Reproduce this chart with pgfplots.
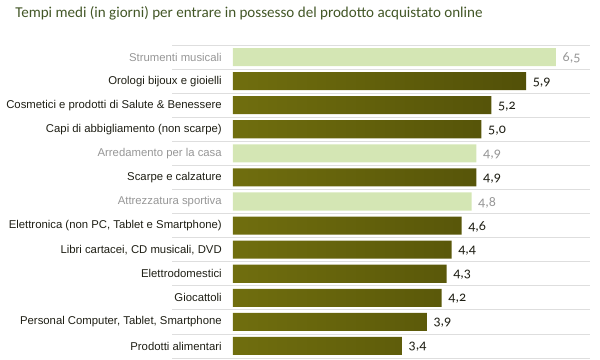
\documentclass[border=0pt]{standalone}
\usepackage{pgfplots}
\pgfplotsset{compat=1.18}
\usepackage{fontspec}
\setmainfont{Liberation Sans}
\newfontfamily\titlefont{Carlito}
\newfontfamily\valfont[Numbers=OldStyle]{Carlito}
\definecolor{lightbar}{RGB}{212,230,180}
\definecolor{olivedark}{RGB}{82,80,8}
\definecolor{olivemid}{RGB}{112,110,14}
\definecolor{titlecol}{RGB}{66,86,38}
\definecolor{gridcol}{RGB}{222,222,222}
\definecolor{lightlabel}{RGB}{150,150,150}
\definecolor{darklabel}{RGB}{30,30,20}
\begin{document}
\begin{tikzpicture}
\path[use as bounding box] (0,0) rectangle (450pt,270pt);
\foreach \i in {0,...,13} {
  \draw[gridcol, line width=0.6pt] (129pt,{236.25pt-\i*18.058pt}) -- (442.5pt,{236.25pt-\i*18.058pt});
}
\node[anchor=base west, inner sep=0pt, text=titlecol, font=\titlefont\fontsize{11.3}{13}\selectfont] at (11.25pt,256.5pt) {Tempi medi (in giorni) per entrare in possesso del prodotto acquistato online};
\begin{axis}[
  at={(174.75pt,1.5pt)}, anchor=south west,
  scale only axis, width=242.25pt, height=234.75pt,
  xbar, bar width=0.75, bar shift=0pt,
  xmin=0, xmax=6.5, ymin=-0.5, ymax=12.5, y dir=reverse,
  enlargelimits=false, clip=false,
  axis line style={draw=none}, major tick length=0pt,
  xtick=\empty, ytick={0,...,12},
  yticklabels={{\color{lightlabel}Strumenti musicali},{Orologi bijoux e gioielli},{Cosmetici e prodotti di Salute \& Benessere},{Capi di abbigliamento (non scarpe)},{\color{lightlabel}Arredamento per la casa},{Scarpe e calzature},{\color{lightlabel}Attrezzatura sportiva},{Elettronica (non PC, Tablet e Smartphone)},{Libri cartacei, CD musicali, DVD},{Elettrodomestici},{Giocattoli},{Personal Computer, Tablet, Smartphone},{Prodotti alimentari}},
  yticklabel style={anchor=east, inner sep=0pt, xshift=-8.25pt, font=\fontsize{8.5}{10}\selectfont, text=darklabel},
  nodes near coords,
  nodes near coords align={horizontal},
  point meta=x,
  /pgf/number format/.cd, use comma, fixed, fixed zerofill, precision=1, assume math mode=true,
  /pgfplots/.cd,
  every node near coord/.append style={anchor=west, xshift=1.5pt, yshift=-0.8pt, font=\valfont\fontsize{10.5}{12}\selectfont},
]
\addplot[draw=none, fill=lightbar, every node near coord/.append style={text=lightlabel}] coordinates {(6.5,0) (4.9,4) (4.8,6)};
\addplot[draw=none, left color=olivemid, middle color=olivemid!90!white, right color=olivedark, every node near coord/.append style={text=darklabel}] coordinates {(5.9,1) (5.2,2) (5.0,3) (4.9,5) (4.6,7) (4.4,8) (4.3,9) (4.2,10) (3.9,11) (3.4,12)};
\end{axis}
\end{tikzpicture}
\end{document}
